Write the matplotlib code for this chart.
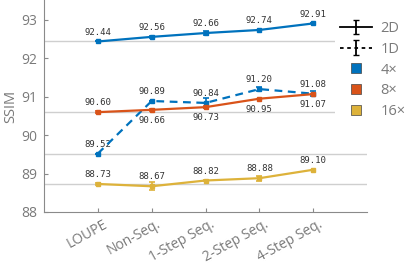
import numpy as np
import matplotlib
matplotlib.use("Agg")
import matplotlib.pyplot as plt
import matplotlib.transforms as mtransforms
from matplotlib.lines import Line2D

methods = ["LOUPE", "Non-Seq.", "1-Step Seq.", "2-Step Seq.", "4-Step Seq."]

ssim_4x_2d = [92.44, 92.56, 92.66, 92.74, 92.91]
err_4x_2d = [0.0, 0.02, 0.05, 0.0, 0.0]
ssim_4x_1d = [89.52, 90.89, 90.84, 91.20, 91.08]
err_4x_1d = [0.0, 0.0, 0.12, 0.05, 0.07]
ssim_8x_2d = [90.60, 90.66, 90.73, 90.95, 91.07]
err_8x_2d = [0.03, 0.03, 0.03, 0.0, 0.0]
ssim_16x_2d = [88.73, 88.67, 88.82, 88.88, 89.10]
err_16x_2d = [0.03, 0.10, 0.02, 0.07, 0.0]

c_blue = "#0072BD"
c_orange = "#D95319"
c_yellow = "#DDB23A"
txt_gray = "#7a7a7a"

plt.rcParams['font.family'] = ['Open Sans', 'DejaVu Sans']

fig = plt.figure(figsize=(4.07, 2.64), dpi=100)
ax = fig.add_axes([0.108, 0.197, 0.794, 0.803])

x = np.arange(len(methods))

# baselines at the LOUPE values
for v in [ssim_4x_2d[0], ssim_8x_2d[0], ssim_4x_1d[0], ssim_16x_2d[0]]:
	ax.axhline(v, color="#cfcfcf", lw=1.0, zorder=0)

def series(vals, errs, color, ls, below=None):
	ax.errorbar(x, vals, yerr=errs, color=color, ls=ls, lw=1.6, marker='s', markersize=3,
		capsize=2, elinewidth=1.2, capthick=1.2, zorder=3)
	for i, v in enumerate(vals):
		if below is not None and i in below:
			ax.annotate("%.2f" % v, (x[i], v), xytext=(0, -4.5), textcoords='offset points',
				ha='center', va='top', fontsize=6.5, family='DejaVu Sans Mono', color="#333333")
		else:
			ax.annotate("%.2f" % v, (x[i], v), xytext=(0, 3.5), textcoords='offset points',
				ha='center', va='bottom', fontsize=6.5, family='DejaVu Sans Mono', color="#333333")

series(ssim_4x_2d, err_4x_2d, c_blue, '-')
series(ssim_4x_1d, err_4x_1d, c_blue, (0, (3.5, 2.5)))
series(ssim_8x_2d, err_8x_2d, c_orange, '-', below=[1, 2, 3, 4])
series(ssim_16x_2d, err_16x_2d, c_yellow, '-')

ax.set_xlim(-1, 5)
ax.set_ylim(88, 93.52)
ax.set_yticks([88, 89, 90, 91, 92, 93])
ax.set_xticks(x)
ax.set_xticklabels(methods, rotation=29, ha='right', va='center', rotation_mode='anchor')
ax.set_ylabel("SSIM", color=txt_gray, fontsize=10.5, labelpad=2)

for s in ['top', 'right']:
	ax.spines[s].set_visible(False)
for s in ['left', 'bottom']:
	ax.spines[s].set_color("#8a8a8a")
ax.tick_params(direction='in', colors="#8a8a8a", labelcolor=txt_gray, labelsize=10, length=3, width=0.8)
ax.tick_params(axis='y', pad=5)
ax.tick_params(axis='x', pad=8, labelsize=10)

shift = mtransforms.ScaledTranslation(6/72, 0, fig.dpi_scale_trans)
for lab in ax.get_xticklabels():
	lab.set_transform(lab.get_transform() + shift)

# legend
h2d = ax.errorbar([np.nan], [np.nan], yerr=[0.1], color='k', ls='-', lw=1.3, capsize=2.5)
h1d = ax.errorbar([np.nan], [np.nan], yerr=[0.1], color='k', ls=(0, (2, 2)), lw=1.3, capsize=2.5)
sq = lambda c: Line2D([], [], ls='none', marker='s', markersize=7, markerfacecolor=c,
	markeredgecolor="#444444", markeredgewidth=0.5)
leg = fig.legend([h2d, h1d, sq(c_blue), sq(c_orange), sq(c_yellow)],
	["2D", "1D", "4×", "8×", "16×"], loc='upper right', bbox_to_anchor=(1.025, 0.965),
	fontsize=10.5, labelspacing=0.4, handlelength=2.2, handletextpad=0.6,
	frameon=True, framealpha=1, edgecolor='none', facecolor='white', borderpad=0.3)
for t in leg.get_texts():
	t.set_color(txt_gray)

fig.savefig("out.png", dpi=100)
